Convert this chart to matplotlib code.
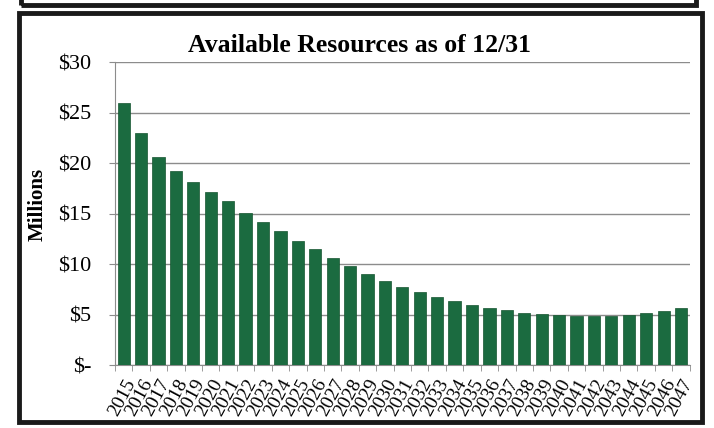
import numpy as np
import matplotlib.pyplot as plt
from matplotlib.patches import Rectangle

years = [str(y) for y in range(2015, 2048)]
resources = [25.9, 23.0, 20.6, 19.2, 18.1, 17.1, 16.2, 15.1, 14.2, 13.3,
             12.3, 11.5, 10.6, 9.8, 9.0, 8.3, 7.7, 7.2, 6.7, 6.3,
             5.9, 5.7, 5.45, 5.2, 5.05, 4.95, 4.85, 4.85, 4.9, 5.0,
             5.15, 5.4, 5.7]
ytick_vals = [0, 5, 10, 15, 20, 25, 30]
ytick_labels = ['$-', '$5', '$10', '$15', '$20', '$25', '$30']

plt.rcParams['font.family'] = ['Liberation Serif', 'DejaVu Serif']

fig = plt.figure(figsize=(7.14, 4.28), dpi=100)
fig.patch.set_facecolor('white')

# scanned page frame
fig.add_artist(Rectangle((0.026, 0.015), 0.957, 0.955, transform=fig.transFigure,
                         fill=False, edgecolor='#1a1a1a', linewidth=3.5))
fig.add_artist(Rectangle((0.03, 0.988), 0.945, 0.05, transform=fig.transFigure,
                         fill=False, edgecolor='#1a1a1a', linewidth=3.5))

ax = fig.add_axes([0.161, 0.147, 0.805, 0.708])
x = np.arange(len(years))
ax.bar(x, resources, width=0.7, color='#1b6b40', edgecolor='#15552f', linewidth=0.5, zorder=3)

ax.set_xlim(-0.5, len(years) - 0.5)
ax.set_ylim(0, 30)
ax.set_yticks(ytick_vals)
ax.set_yticklabels(ytick_labels, fontsize=16)
ax.yaxis.grid(True, color='#8c8c8c', linewidth=1, zorder=0)

ax.set_xticks(x)
ax.set_xticklabels(years, rotation=62, ha='right', rotation_mode='anchor',
                   fontsize=14)
ax.tick_params(axis='x', length=0, pad=8)
ax.set_xticks(np.arange(-0.5, len(years)), minor=True)
ax.tick_params(axis='x', which='minor', length=4, color='#8c8c8c')
ax.tick_params(axis='y', length=4, color='#8c8c8c', pad=13)

for side in ['top', 'right']:
    ax.spines[side].set_visible(False)
ax.spines['left'].set_color('#8c8c8c')
ax.spines['bottom'].set_color('#8c8c8c')

ax.set_ylabel('Millions', fontsize=15, fontweight='bold')
ax.yaxis.set_label_coords(-0.117, 0.53)
fig.text(0.503, 0.893, 'Available Resources as of 12/31', fontsize=18.5,
         fontweight='bold', ha='center', va='center')

plt.savefig('out.png', dpi=100)
